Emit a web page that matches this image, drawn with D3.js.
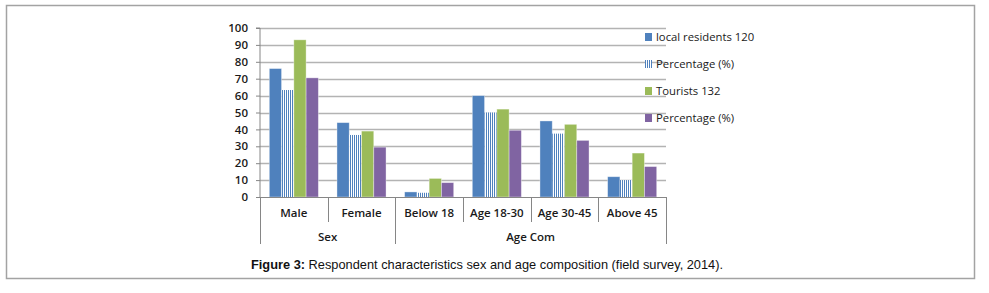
<!DOCTYPE html>
<html>
<head>
<meta charset="utf-8">
<script src="https://cdn.jsdelivr.net/npm/d3@7"></script>
<style>
  body { margin: 0; background: #fff; }
  svg { display: block; }
</style>
</head>
<body>
<svg id="viz" width="989" height="293"></svg>
<script>
// chart values
var categories = ['Male', 'Female', 'Below 18', 'Age 18-30', 'Age 30-45', 'Above 45'];
var groups = [
  { name: 'Sex', from: 0, to: 1 },
  { name: 'Age Com', from: 2, to: 5 },
];
var seriesNames = ['local residents 120', 'Percentage (%)', 'Tourists 132', 'Percentage (%)'];
var localResidents = [76, 44, 3, 60, 45, 12];
var localPct = [63.3, 36.7, 2.5, 50, 37.5, 10];
var tourists = [93, 39, 11, 52, 43, 26];
var touristPct = [70.5, 29.5, 8.5, 39.5, 33.5, 18];
var yTicks = [0, 10, 20, 30, 40, 50, 60, 70, 80, 90, 100];

var colors = ['#4f81bd', 'url(#stripes)', '#9bbb59', '#8064a2'];
var allSeries = [localResidents, localPct, tourists, touristPct];

var svg = d3.select('#viz');
var font = 'Open Sans, Noto Sans, sans-serif';

// striped fill for the local residents percentage
var pat = svg
  .append('defs')
  .append('pattern')
  .attr('id', 'stripes')
  .attr('patternUnits', 'userSpaceOnUse')
  .attr('width', 2)
  .attr('height', 4);
pat.append('rect').attr('width', 2).attr('height', 4).attr('fill', '#fff');
pat.append('rect').attr('width', 1).attr('height', 4).attr('fill', '#4f81bd');

// outer frame
svg
  .append('rect')
  .attr('x', 6.5)
  .attr('y', 5.5)
  .attr('width', 968)
  .attr('height', 273)
  .attr('fill', 'none')
  .attr('stroke', '#a3a3a3')
  .attr('stroke-width', 1.5);

var plotLeft = 260,
  plotRight = 666,
  plotTop = 28,
  plotBottom = 197;

var x0 = d3.scaleBand().domain(d3.range(categories.length)).range([plotLeft, plotRight]);
var x1 = d3
  .scaleBand()
  .domain(d3.range(allSeries.length))
  .range([9.3, x0.bandwidth() - 9.3]);
var y = d3.scaleLinear().domain([0, 100]).range([plotBottom, plotTop]);

// gridlines
svg
  .append('g')
  .selectAll('line')
  .data(yTicks.slice(1))
  .enter()
  .append('line')
  .attr('x1', plotLeft)
  .attr('x2', plotRight)
  .attr('y1', (d) => Math.round(y(d)) + 0.5)
  .attr('y2', (d) => Math.round(y(d)) + 0.5)
  .attr('stroke', '#b3b3b3')
  .attr('stroke-width', 1.6);

// y axis
var yAxis = svg
  .append('g')
  .attr('transform', 'translate(' + plotLeft + ',0)')
  .call(d3.axisLeft(y).tickValues(yTicks).tickSize(4).tickPadding(8));
yAxis.select('.domain').attr('stroke', '#868686').attr('d', 'M-4,' + plotTop + 'H0V' + plotBottom);
yAxis.selectAll('line').attr('stroke', '#868686');
yAxis
  .selectAll('text')
  .style('font-family', font)
  .style('font-size', '11.5px')
  .style('font-weight', '600')
  .attr('fill', '#1a1a1a');

// bars
allSeries.forEach(function (vals, si) {
  svg
    .append('g')
    .selectAll('rect')
    .data(vals)
    .enter()
    .append('rect')
    .attr('x', (d, i) => x0(i) + x1(si))
    .attr('y', (d) => y(d))
    .attr('width', x1.bandwidth())
    .attr('height', (d) => y(0) - y(d))
    .attr('fill', colors[si])
    .attr('stroke', si == 1 ? 'none' : 'rgba(255,255,255,0.45)')
    .attr('stroke-width', 0.8);
});

// category axis with two label levels
var xa = svg.append('g').attr('stroke', '#868686');
xa.append('line')
  .attr('x1', plotLeft)
  .attr('x2', plotRight)
  .attr('y1', plotBottom + 0.5)
  .attr('y2', plotBottom + 0.5);
var edges = d3.range(categories.length + 1);
xa.selectAll('.sep')
  .data(edges)
  .enter()
  .append('line')
  .attr('x1', (i) => Math.round(i < categories.length ? x0(i) : plotRight) + 0.5)
  .attr('x2', (i) => Math.round(i < categories.length ? x0(i) : plotRight) + 0.5)
  .attr('y1', plotBottom)
  .attr('y2', function (i) {
    var isGroupEdge = groups.some((g) => g.from == i || g.to + 1 == i);
    return isGroupEdge ? 244 : 222;
  });

svg
  .append('g')
  .selectAll('text')
  .data(categories)
  .enter()
  .append('text')
  .attr('x', (d, i) => x0(i) + x0.bandwidth() / 2)
  .attr('y', 217)
  .attr('text-anchor', 'middle')
  .style('font-family', font)
  .style('font-size', '11.5px')
  .style('font-weight', '600')
  .attr('fill', '#1a1a1a')
  .text((d) => d);

svg
  .append('g')
  .selectAll('text')
  .data(groups)
  .enter()
  .append('text')
  .attr('x', (g) => (x0(g.from) + x0(g.to) + x0.bandwidth()) / 2)
  .attr('y', 241)
  .attr('text-anchor', 'middle')
  .style('font-family', font)
  .style('font-size', '11.5px')
  .style('font-weight', '600')
  .attr('fill', '#1a1a1a')
  .text((g) => g.name);

// legend
var legend = svg
  .selectAll('.leg')
  .data(seriesNames)
  .enter()
  .append('g')
  .attr('transform', (d, i) => 'translate(645,' + (37 + i * 27) + ')');
legend
  .append('rect')
  .attr('x', 0)
  .attr('y', -4)
  .attr('width', 7)
  .attr('height', 8)
  .attr('fill', (d, i) => colors[i]);
legend
  .append('text')
  .attr('x', 11)
  .attr('y', 0)
  .attr('dy', '0.35em')
  .style('font-family', font)
  .style('font-size', '11.3px')
  .attr('fill', '#1a1a1a')
  .text((d) => d);

// caption
var cap = svg
  .append('text')
  .attr('x', 487)
  .attr('y', 269)
  .attr('text-anchor', 'middle')
  .style('font-family', 'Liberation Sans, Arial, sans-serif')
  .style('font-size', '12.8px')
  .attr('fill', '#111');
cap.append('tspan').style('font-weight', 'bold').text('Figure 3:');
cap.append('tspan').text(' Respondent characteristics sex and age composition (field survey, 2014).');
</script>
</body>
</html>
